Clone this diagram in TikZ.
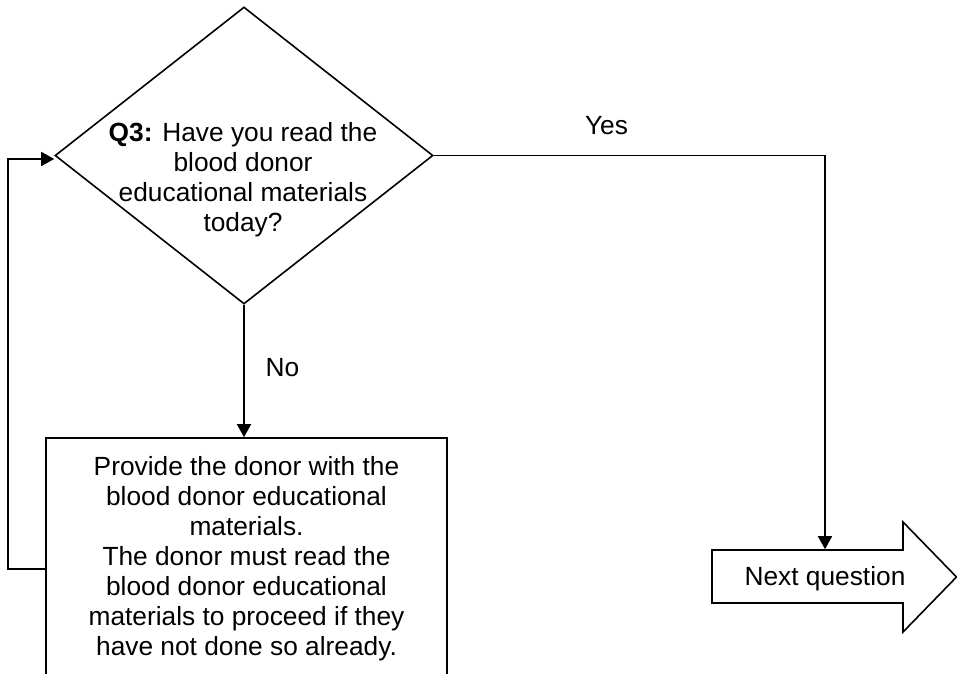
\documentclass[tikz,border=0pt]{standalone}
\usepackage{fontspec}
\setmainfont{Liberation Sans}
\usetikzlibrary{shapes.geometric,arrows.meta,calc}
\begin{document}
\begin{tikzpicture}[x=1pt,y=-1pt, line width=1.6pt,
  conn/.style={-{Triangle[length=13pt,width=14pt]}, line join=miter},
  txt/.style={align=center,inner sep=0pt,font=\fontsize{26.3}{30}\selectfont},
  lbl/.style={inner sep=0pt,font=\fontsize{26.3}{30}\selectfont,anchor=base},
  decision/.style={draw,diamond,minimum width=378pt,minimum height=297pt,inner sep=0pt},
  process/.style={draw,rectangle,minimum width=401pt,minimum height=262pt,inner sep=0pt}]
\useasboundingbox (0,0) rectangle (957,673);
\fill[white] (0,0) rectangle (957,673);
\clip (0,0) rectangle (957,673);

% decision diamond
\node[decision] (q) at (244,155.5) {};
\node[txt,anchor=north] (qt) at (243,121.4)
  {\textbf{Q3:} Have you read the\\blood donor\\educational materials\\today?};

% process box (runs off the bottom edge)
\node[process] (pbox) at (246.5,569) {};
\node[txt,anchor=north] (pt) at (246.5,455.8)
  {Provide the donor with the\\blood donor educational\\materials.\\The donor must read the\\blood donor educational\\materials to proceed if they\\have not done so already.};

% next question arrow shape
\draw[line join=miter] (712,550) -- (903,550) -- (903,522) -- (956.5,577)
  -- (903,632) -- (903,603) -- (712,603) -- cycle;
\node[txt,minimum height=57pt] (nq) at (825,578.5) {Next question};

% connectors
\draw[conn] (q.east) -| (nq.north);
\draw[conn] (q.south) -- (q.south |- pbox.north);
\draw[conn] (pbox.west) -- ++(-37,0) |- ($(q.west)+(0,3.5)$);

% labels
\node[lbl] (yes) at (606.5,134) {Yes};
\node[lbl] (no) at (282.5,376) {No};
\end{tikzpicture}
\end{document}
